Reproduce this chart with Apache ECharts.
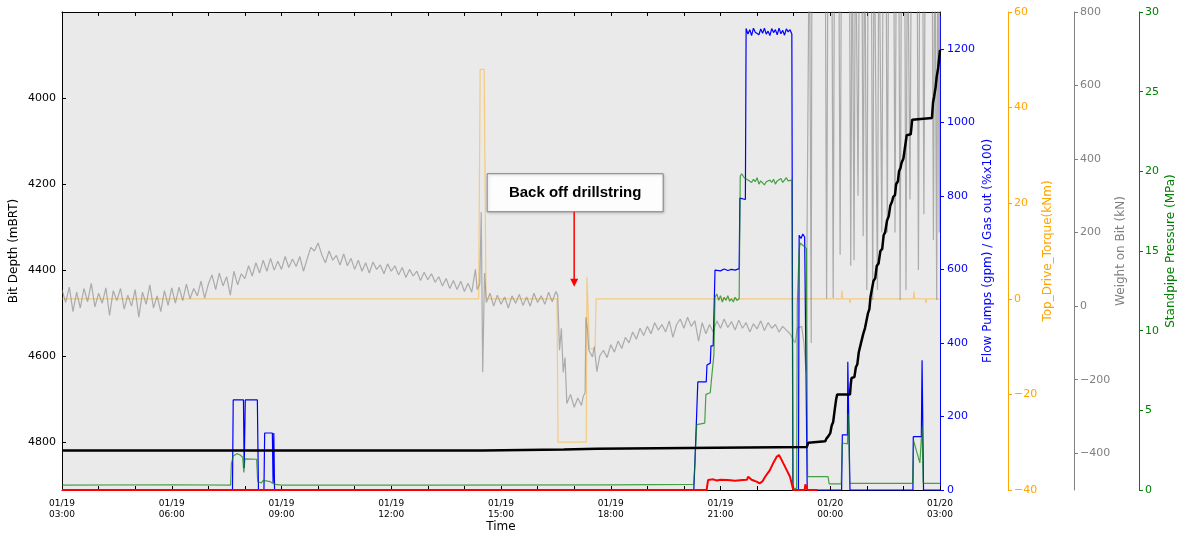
<!DOCTYPE html>
<html>
<head>
<meta charset="utf-8">
<script src="https://cdn.jsdelivr.net/npm/echarts@6/dist/echarts.min.js"></script>
<style>
html, body { margin: 0; padding: 0; background: #fff; }
#chart { width: 1182px; height: 538px; }
</style>
</head>
<body>
<div id="chart"></div>
<script>
// time is counted in hours after 01/19 03:00
var timeTicks = [0, 3, 6, 9, 12, 15, 18, 21, 24];
var timeLabels = ['01/19\n03:00', '01/19\n06:00', '01/19\n09:00', '01/19\n12:00', '01/19\n15:00',
                  '01/19\n18:00', '01/19\n21:00', '01/20\n00:00', '01/20\n03:00'];
var depthTicks = [4000, 4200, 4400, 4600, 4800];
var flowTicks = [0, 200, 400, 600, 800, 1000, 1200];
var wobTicks = [-400, -200, 0, 200, 400, 600, 800];

// Bit depth (mBRT)
var bitDepth = [
    [0, 4818], [11.5, 4818], [11.52, 4816], [13.72, 4816], [13.75, 4814], [14.62, 4814], [14.65, 4810], [20.36, 4810],
    [20.4, 4800], [20.45, 4797], [20.86, 4797], [20.9, 4790], [20.95, 4785], [21.0, 4778], [21.04, 4760], [21.08, 4752],
    [21.12, 4725], [21.16, 4700], [21.19, 4688], [21.54, 4688], [21.56, 4665], [21.58, 4650], [21.66, 4648], [21.7, 4625],
    [21.74, 4618], [21.78, 4590], [21.82, 4576], [21.86, 4572], [21.9, 4548], [21.95, 4534], [21.99, 4530], [22.03, 4500],
    [22.07, 4490], [22.1, 4462], [22.14, 4458], [22.18, 4425], [22.23, 4418], [22.27, 4390], [22.32, 4384], [22.37, 4355],
    [22.42, 4350], [22.46, 4318], [22.5, 4312], [22.55, 4285], [22.6, 4274], [22.64, 4250], [22.69, 4240], [22.72, 4230],
    [22.77, 4225], [22.8, 4200], [22.85, 4193], [22.88, 4170], [22.92, 4162], [22.95, 4150], [23.0, 4140], [23.05, 4110],
    [23.09, 4086], [23.2, 4084], [23.24, 4050], [23.28, 4046], [23.78, 4046], [23.81, 4010], [23.84, 3996], [23.88, 3975],
    [23.91, 3950], [23.95, 3930], [23.98, 3905], [24.0, 3888]
];

// Flow pumps (gpm)
var flowPumps = [
    [0, 0], [4.66, 0], [4.68, 245], [4.96, 245], [4.98, 60], [5.01, 245], [5.34, 245], [5.37, 0],
    [5.52, 0], [5.54, 155], [5.75, 155], [5.77, 20], [5.79, 155], [5.81, 0],
    [17.27, 0], [17.3, 72], [17.38, 294], [17.61, 294], [17.63, 340], [17.72, 345], [17.74, 392], [17.8, 392],
    [17.85, 598], [17.9, 600], [18.0, 596], [18.1, 601], [18.2, 597], [18.3, 600], [18.4, 598], [18.51, 602],
    [18.53, 794], [18.68, 790], [18.7, 1255], [18.75, 1240], [18.8, 1252], [18.85, 1236], [18.9, 1256], [18.95, 1245],
    [19.0, 1250], [19.05, 1238], [19.1, 1254], [19.15, 1242], [19.2, 1256], [19.25, 1240], [19.3, 1248], [19.35, 1236],
    [19.4, 1255], [19.45, 1244], [19.5, 1252], [19.55, 1238], [19.6, 1256], [19.65, 1241], [19.7, 1250], [19.75, 1237],
    [19.8, 1254], [19.85, 1246], [19.9, 1252], [19.95, 1240], [19.98, 0],
    [20.13, 0], [20.15, 693], [20.2, 684], [20.25, 696], [20.3, 688], [20.35, 690], [20.37, 0],
    [21.31, 0], [21.33, 150], [21.47, 150], [21.48, 349], [21.51, 345], [21.54, 0],
    [23.26, 0], [23.27, 145], [23.49, 145], [23.51, 353], [23.53, 350], [23.55, 0], [24, 0]
];

// Gas out (%x100), on the flow axis
var gasOut = [
    [0, 0], [17.62, 0], [17.66, 27], [17.8, 29], [17.9, 26], [18.0, 28], [18.2, 27], [18.4, 25], [18.6, 27],
    [18.72, 28], [18.76, 36], [18.85, 28], [19.0, 22], [19.07, 18], [19.15, 24], [19.22, 36], [19.35, 54],
    [19.45, 75], [19.54, 91], [19.6, 95], [19.67, 82], [19.81, 54], [19.9, 36], [19.99, 0], [20.3, 0],
    [20.32, 15], [20.34, 20], [20.36, 10], [20.38, 0], [20.64, 0]
];

// Standpipe pressure (MPa)
var standpipe = [
    [0, 0.31], [3, 0.33], [4.61, 0.31], [4.63, 1.65], [4.68, 2.13], [4.78, 2.28], [4.87, 2.2], [4.94, 2.05],
    [4.97, 1.1], [5.0, 1.95], [5.05, 2.07], [5.32, 1.93], [5.35, 0.52], [5.45, 0.45], [5.5, 0.6], [5.69, 0.52],
    [5.82, 0.35], [6, 0.31], [10, 0.3], [15, 0.32], [17.27, 0.35],
    [17.3, 1.7], [17.35, 4.1], [17.57, 4.2], [17.6, 6.0], [17.72, 6.1], [17.76, 7.1], [17.82, 8.5], [17.85, 12.1],
    [17.9, 12.3], [17.95, 11.9], [18.0, 12.2], [18.05, 11.8], [18.1, 12.1], [18.15, 11.9], [18.2, 12.2], [18.25, 11.85],
    [18.3, 12.0], [18.35, 11.8], [18.4, 12.1], [18.45, 11.9], [18.51, 12.0], [18.54, 19.7], [18.58, 19.85],
    [18.65, 19.6], [18.7, 19.7], [18.75, 19.45], [18.8, 19.55], [18.85, 19.3], [18.9, 19.5], [18.95, 19.35],
    [19.0, 19.6], [19.05, 19.2], [19.1, 19.4], [19.15, 19.3], [19.2, 19.15], [19.25, 19.35], [19.3, 19.25],
    [19.35, 19.45], [19.4, 19.3], [19.45, 19.5], [19.5, 19.2], [19.55, 19.4], [19.6, 19.35], [19.65, 19.55],
    [19.7, 19.3], [19.75, 19.45], [19.8, 19.6], [19.85, 19.4], [19.9, 19.5], [19.95, 19.45], [19.98, 0.1],
    [20.08, 0.1], [20.1, 11.7], [20.15, 15.1], [20.18, 15.5], [20.35, 15.15], [20.38, 0.84], [20.94, 0.84],
    [20.97, 0.38], [21.3, 0.38], [21.33, 2.95], [21.47, 2.9], [21.49, 4.8], [21.51, 3.5], [21.53, 0.42],
    [23.25, 0.42], [23.28, 3.1], [23.35, 2.5], [23.45, 1.7], [23.49, 1.6], [23.51, 4.0], [23.54, 0.42], [24, 0.42]
];

// Top drive torque (kNm)
var torque = [
    [0, 0], [11.39, 0], [11.43, 48], [11.54, 48], [11.59, 0], [13.53, 0], [13.56, -30], [14.33, -30],
    [14.35, 4.6], [14.42, -10.5], [14.57, -10.5], [14.6, 0], [21.3, 0], [21.32, 1.8], [21.34, 0],
    [21.52, 0], [21.54, -0.9], [21.56, 0], [23.27, 0], [23.29, 1.5], [23.31, 0], [23.6, 0], [23.62, -0.9],
    [23.64, 0], [24, 0]
];

// Weight on bit (kN); readings above 800 run off the top of the plot
var wob = [
    [0.0, 45], [0.1, 10], [0.2, 52], [0.3, -15], [0.4, 38], [0.5, -5], [0.6, 48], [0.7, 12], [0.8, 62], [0.9, -2],
    [1.0, 35], [1.1, 8], [1.2, 50], [1.3, -25], [1.4, 42], [1.5, 15], [1.6, 48], [1.7, -8], [1.8, 30], [1.9, 0],
    [2.0, 45], [2.1, -30], [2.2, 38], [2.3, 5], [2.4, 58], [2.5, -5], [2.6, 28], [2.7, -15], [2.8, 42], [2.9, 2],
    [3.0, 50], [3.1, 8], [3.2, 52], [3.3, 15], [3.4, 60], [3.5, 20], [3.6, 48], [3.7, 28], [3.8, 68], [3.9, 22],
    [4.0, 60], [4.1, 85], [4.2, 45], [4.3, 90], [4.4, 55], [4.5, 80], [4.6, 30], [4.7, 95], [4.8, 58], [4.9, 88],
    [5.0, 75], [5.1, 110], [5.2, 82], [5.3, 118], [5.4, 90], [5.5, 125], [5.6, 95], [5.7, 130], [5.8, 98], [5.9, 122],
    [6.0, 100], [6.1, 135], [6.2, 105], [6.3, 128], [6.4, 108], [6.5, 135], [6.6, 95], [6.7, 128], [6.8, 160], [6.9, 150],
    [7.0, 172], [7.1, 140], [7.2, 118], [7.3, 150], [7.4, 125], [7.5, 138], [7.6, 112], [7.7, 142], [7.8, 110], [7.9, 130],
    [8.0, 100], [8.1, 125], [8.2, 95], [8.3, 118], [8.4, 90], [8.5, 120], [8.6, 100], [8.7, 112], [8.8, 88], [8.9, 115],
    [9.0, 95], [9.1, 110], [9.2, 85], [9.3, 105], [9.4, 78], [9.5, 100], [9.6, 82], [9.7, 95], [9.8, 70], [9.9, 92],
    [10.0, 72], [10.1, 88], [10.2, 65], [10.3, 80], [10.4, 55], [10.5, 75], [10.6, 48], [10.7, 70], [10.8, 45], [10.9, 68],
    [11.0, 40], [11.1, 62], [11.2, 38], [11.3, 100], [11.35, 45], [11.42, 60], [11.46, 256], [11.5, -180], [11.55, 90], [11.6, 10],
    [11.7, 35], [11.8, 0], [11.9, 30], [12.0, 5], [12.1, 25], [12.2, -5], [12.3, 28], [12.4, 8], [12.5, 32], [12.6, 2],
    [12.7, 25], [12.8, 0], [12.9, 35], [13.0, 10], [13.1, 28], [13.2, 5], [13.3, 38], [13.4, 12], [13.5, 40],
    [13.55, 30], [13.6, -120], [13.65, -60], [13.7, -180], [13.75, -140], [13.8, -265], [13.9, -240], [14.0, -275],
    [14.1, -250], [14.2, -270], [14.25, -245], [14.3, -235], [14.32, -30], [14.36, -60], [14.4, -120], [14.5, -138],
    [14.55, -110], [14.62, -178], [14.7, -135], [14.8, -120], [14.9, -140], [15.0, -105], [15.1, -125], [15.2, -95],
    [15.3, -115], [15.4, -85], [15.5, -100], [15.6, -70], [15.7, -90], [15.8, -60], [15.9, -80], [16.0, -55],
    [16.1, -75], [16.2, -45], [16.3, -65], [16.4, -50], [16.5, -70], [16.6, -40], [16.7, -85], [16.8, -50],
    [16.9, -35], [17.0, -60], [17.1, -30], [17.2, -55], [17.3, -40], [17.4, -95], [17.5, -45], [17.6, -75],
    [17.7, -50], [17.8, -70], [17.9, -40], [18.0, -60], [18.1, -35], [18.2, -58], [18.3, -42], [18.4, -65],
    [18.5, -38], [18.6, -60], [18.7, -45], [18.8, -70], [18.9, -48], [19.0, -62], [19.1, -40], [19.2, -66],
    [19.3, -45], [19.4, -60], [19.5, -50], [19.6, -70], [19.7, -55], [19.8, -65], [19.9, -75], [20.04, -100],
    [20.1, -60], [20.22, -55], [20.28, -100], [20.34, -178], [20.38, -183], [20.43, 1100],
    [20.46, 1100], [20.48, -100], [20.5, 1100],
    [20.86, 1100], [20.9, 20], [20.94, 1100], [21.04, 1100], [21.08, 22], [21.12, 1100],
    [21.23, 1100], [21.27, 140], [21.31, 1100], [21.52, 1100], [21.56, 110], [21.6, 1100],
    [21.61, 1100], [21.65, 125], [21.69, 1100], [21.72, 1100], [21.76, 300], [21.8, 1100],
    [21.86, 1100], [21.9, 190], [21.94, 1100], [21.96, 1100], [22.0, 44], [22.04, 1100],
    [22.12, 1100], [22.16, 17], [22.2, 1100], [22.25, 1100], [22.29, 44], [22.33, 1100],
    [22.37, 1100], [22.41, 200], [22.45, 1100], [22.52, 1100], [22.56, 200], [22.6, 1100],
    [22.73, 1100], [22.77, 200], [22.81, 1100], [22.87, 1100], [22.91, 17], [22.95, 1100],
    [23.03, 1100], [23.07, 44], [23.11, 1100], [23.14, 1100], [23.18, 290], [23.22, 1100],
    [23.37, 1100], [23.41, 98], [23.45, 1100], [23.52, 1100], [23.56, 250], [23.6, 1100],
    [23.78, 1100], [23.82, 180], [23.86, 1100], [23.88, 1100], [23.91, 17], [23.94, 1100],
    [23.96, 1100], [23.98, 200], [24.0, 1100]
];

var note = { hour: 14.0, depth: 4438, text: 'Back off drillstring' };

// plain numbers, no thousands separator, true minus sign
var plain = function (v) { return String(v).replace('-', '\u2212'); };
var font = 'DejaVu Sans';

function rightAxis(color, offset, nameGap, name, extra) {
    var axis = {
        type: 'value',
        position: 'right',
        offset: offset,
        name: name,
        nameLocation: 'middle',
        nameRotate: 90,
        nameGap: nameGap,
        nameMoveOverlap: false,
        nameTextStyle: { color: color, fontSize: 12, fontFamily: font },
        splitLine: { show: false },
        axisLine: { show: true, onZero: false, lineStyle: { color: color, width: 1 } },
        axisTick: { show: true, inside: false, length: 4, lineStyle: { color: color } },
        axisLabel: { color: color, fontSize: 11, fontFamily: font, margin: 6, formatter: plain }
    };
    for (var k in extra) axis[k] = extra[k];
    return axis;
}

var chart = echarts.init(document.getElementById('chart'), null, { renderer: 'canvas' });

var option = {
    animation: false,
    textStyle: { fontFamily: font },
    grid: {
        left: 62, right: 242, top: 12, bottom: 48,
        show: true, backgroundColor: '#eaeaea', borderWidth: 0,
        containLabel: false, outerBoundsMode: 'none'
    },
    xAxis: [
        {
            type: 'value', min: 0, max: 24, interval: 1, position: 'bottom',
            name: 'Time', nameLocation: 'middle', nameGap: 31, nameMoveOverlap: false,
            nameTextStyle: { color: '#000', fontSize: 12, fontFamily: font },
            splitLine: { show: false },
            axisLine: { show: true, onZero: false, lineStyle: { color: '#000', width: 1 } },
            axisTick: { show: true, inside: true, length: 4, lineStyle: { color: '#000' } },
            axisLabel: {
                color: '#000', fontSize: 9, lineHeight: 11, margin: 8, fontFamily: font,
                customValues: timeTicks,
                formatter: function (v) { return timeLabels[timeTicks.indexOf(v)] || ''; }
            }
        },
        {
            type: 'value', min: 0, max: 24, interval: 1, position: 'top',
            splitLine: { show: false },
            axisLine: { show: true, onZero: false, lineStyle: { color: '#000', width: 1 } },
            axisTick: { show: true, inside: true, length: 4, lineStyle: { color: '#000' } },
            axisLabel: { show: false }
        }
    ],
    yAxis: [
        {
            type: 'value', position: 'left', inverse: true, min: 3800, max: 4910, interval: 200,
            name: 'Bit Depth (mBRT)', nameLocation: 'middle', nameRotate: 90, nameGap: 42, nameMoveOverlap: false,
            nameTextStyle: { color: '#000', fontSize: 12, fontFamily: font },
            splitLine: { show: false },
            axisLine: { show: true, onZero: false, lineStyle: { color: '#000', width: 1 } },
            axisTick: { show: true, inside: true, length: 4, customValues: depthTicks, lineStyle: { color: '#000' } },
            axisLabel: { color: '#000', fontSize: 11, margin: 6, fontFamily: font, customValues: depthTicks, formatter: plain }
        },
        rightAxis('#0000ff', 0, 42, 'Flow Pumps (gpm) / Gas out (%x100)', {
            min: 0, max: 1300, interval: 100,
            axisTick: { show: true, inside: false, length: 4, customValues: flowTicks, lineStyle: { color: '#0000ff' } },
            axisLabel: { color: '#0000ff', fontSize: 11, fontFamily: font, margin: 7, customValues: flowTicks, formatter: plain }
        }),
        rightAxis('#ffa500', 68, 34, 'Top_Drive_Torque(kNm)', { min: -40, max: 60, interval: 20 }),
        rightAxis('#808080', 134, 41, 'Weight on Bit (kN)', {
            min: -500, max: 800, interval: 100,
            axisTick: { show: true, inside: false, length: 4, customValues: wobTicks, lineStyle: { color: '#808080' } },
            axisLabel: { color: '#808080', fontSize: 11, fontFamily: font, margin: 6, customValues: wobTicks, formatter: plain }
        }),
        rightAxis('#008000', 199, 26, 'Standpipe Pressure (MPa)', { min: 0, max: 30, interval: 5 })
    ],
    series: [
        {
            name: 'Top_Drive_Torque', type: 'line', xAxisIndex: 0, yAxisIndex: 2, data: torque,
            showSymbol: false, symbol: 'none', clip: true,
            lineStyle: { color: 'rgba(255,165,0,0.45)', width: 1.2 }
        },
        {
            name: 'Weight on Bit', type: 'line', xAxisIndex: 0, yAxisIndex: 3, data: wob,
            showSymbol: false, symbol: 'none', clip: true,
            lineStyle: { color: 'rgba(128,128,128,0.6)', width: 1.2 }
        },
        {
            name: 'Flow Pumps', type: 'line', xAxisIndex: 0, yAxisIndex: 1, data: flowPumps,
            showSymbol: false, symbol: 'none', clip: false,
            lineStyle: { color: '#0000ff', width: 1.2 }
        },
        {
            name: 'Standpipe Pressure', type: 'line', xAxisIndex: 0, yAxisIndex: 4, data: standpipe,
            showSymbol: false, symbol: 'none', clip: true,
            lineStyle: { color: 'rgba(0,128,0,0.7)', width: 1.2 }
        },
        {
            name: 'Gas out', type: 'line', xAxisIndex: 0, yAxisIndex: 1, data: gasOut,
            showSymbol: false, symbol: 'none', clip: false,
            lineStyle: { color: '#ff0000', width: 2 }
        },
        {
            name: 'Bit Depth', type: 'line', xAxisIndex: 0, yAxisIndex: 0, data: bitDepth,
            showSymbol: false, symbol: 'none', clip: true,
            lineStyle: { color: '#000000', width: 2.5 }
        }
    ]
};

chart.setOption(option);

// annotation box and arrow pointing at the back-off
var tip = chart.convertToPixel({ xAxisIndex: 0, yAxisIndex: 0 }, [note.hour, note.depth]);
chart.setOption({
    graphic: [
        {
            type: 'rect', z: 100,
            shape: { x: tip[0] - 87, y: tip[1] - 113, width: 176, height: 38 },
            style: { fill: '#fdfdfd', stroke: '#7f7f7f', lineWidth: 1,
                     shadowBlur: 3, shadowColor: 'rgba(0,0,0,0.2)', shadowOffsetX: 1, shadowOffsetY: 1 }
        },
        {
            type: 'text', z: 101, x: tip[0] + 1, y: tip[1] - 94,
            style: { text: note.text, font: 'bold 15px "Liberation Sans", Arial, sans-serif', fill: '#000',
                     align: 'center', verticalAlign: 'middle' }
        },
        {
            type: 'line', z: 100,
            shape: { x1: tip[0], y1: tip[1] - 75, x2: tip[0], y2: tip[1] - 6 },
            style: { stroke: '#ff0000', lineWidth: 1.5 }
        },
        {
            type: 'polygon', z: 100,
            shape: { points: [[tip[0] - 4, tip[1] - 8], [tip[0] + 4, tip[1] - 8], [tip[0], tip[1]]] },
            style: { fill: '#ff0000' }
        }
    ]
});
</script>
</body>
</html>
